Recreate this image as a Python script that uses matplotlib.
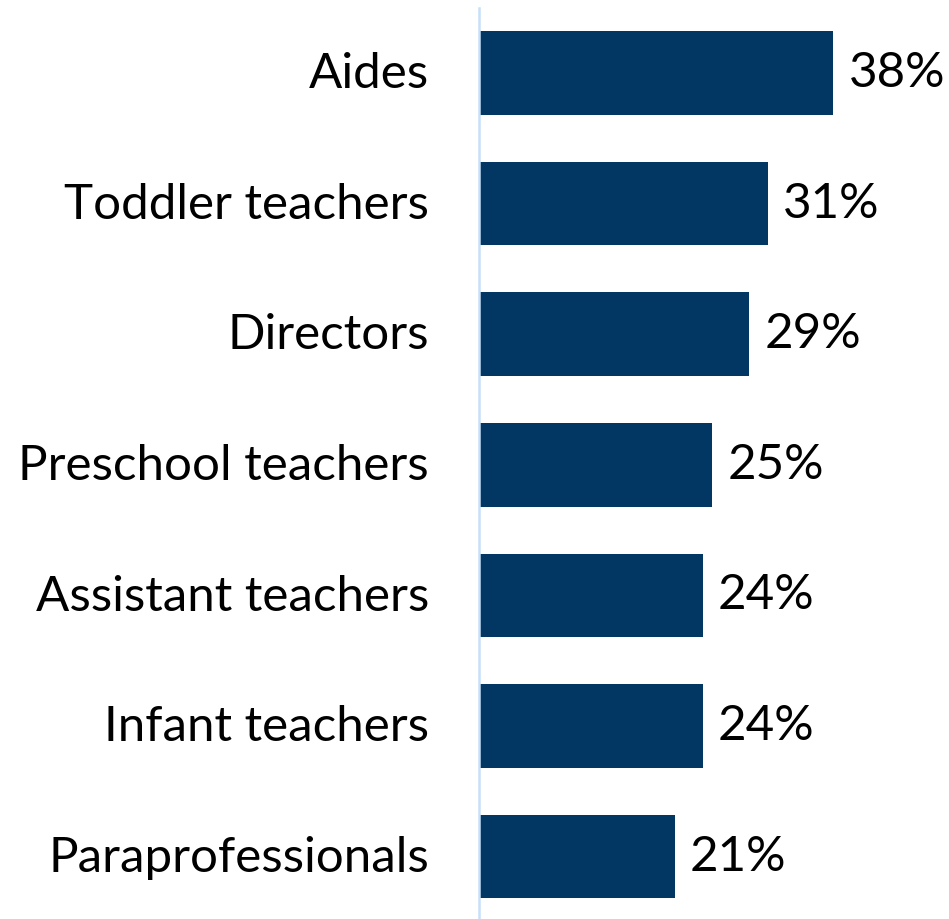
import matplotlib
matplotlib.use("Agg")
import matplotlib.pyplot as plt
from matplotlib.transforms import ScaledTranslation

categories = ["Aides", "Toddler teachers", "Directors", "Preschool teachers",
              "Assistant teachers", "Infant teachers", "Paraprofessionals"]
values = [38, 31, 29, 25, 24, 24, 21]
value_labels = ["38%", "31%", "29%", "25%", "24%", "24%", "21%"]

BAR_COLOR = "#033763"
AXIS_COLOR = "#C5E0F8"
FONT = "Lato"
FS = 35.5

W, H = 949, 919
fig = plt.figure(figsize=(W / 100, H / 100), dpi=100)
ax_left, ax_right = 479 / W, 1.0
ax_top, ax_bot = 1 - 7.7 / H, 1 - 922 / H
ax = fig.add_axes([ax_left, ax_bot, ax_right - ax_left, ax_top - ax_bot])

y = list(range(len(categories)))
ax.barh(y, values, height=0.64, color=BAR_COLOR)
ax.set_ylim(len(categories) - 0.5, -0.5)
ax.set_xlim(0, (W - 479) / 9.32)

# value labels just right of each bar end
for yi, v, lab in zip(y, values, value_labels):
    ax.annotate(lab, (v, yi), xytext=(11, 0), textcoords="offset points",
                ha="left", va="center", fontsize=FS, family=FONT, color="black")

# category labels, nudged up slightly
lift = ScaledTranslation(0, 2 / 72, fig.dpi_scale_trans)
ax.set_yticks(y)
ax.set_yticklabels(categories, fontsize=FS, family=FONT)
ax.tick_params(axis="y", length=0, pad=36)
for lbl in ax.get_yticklabels():
    lbl.set_transform(lbl.get_transform() + lift)
ax.set_xticks([])
for s in ["top", "right", "bottom"]:
    ax.spines[s].set_visible(False)
ax.spines["left"].set_color(AXIS_COLOR)
ax.spines["left"].set_linewidth(1.8)

fig.savefig("out.png", dpi=100)
